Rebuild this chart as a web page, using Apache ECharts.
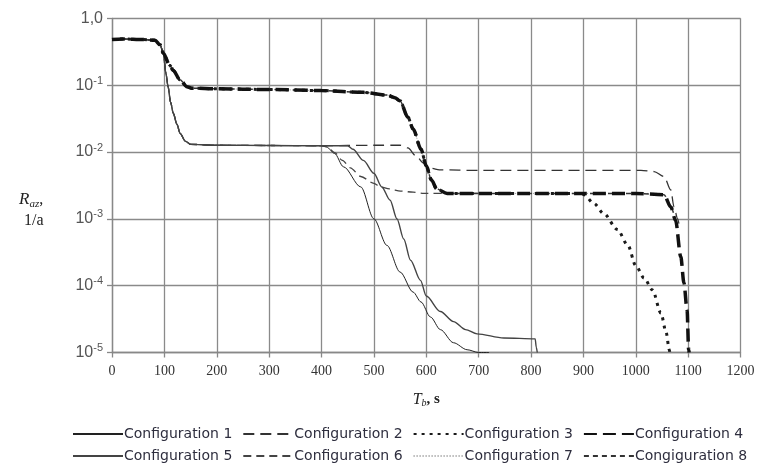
<!DOCTYPE html>
<html>
<head>
<meta charset="utf-8">
<script src="https://cdn.jsdelivr.net/npm/echarts@6/dist/echarts.min.js"></script>
<style>
  html, body { margin: 0; padding: 0; background: #fff; }
  #chart { width: 760px; height: 467px; }
</style>
</head>
<body>
<div id="chart"></div>
<script>
// values: [T_b (s), R_az (1/a)]
const names = ['Configuration 1', 'Configuration 2', 'Configuration 3', 'Configuration 4',
               'Configuration 5', 'Configuration 6', 'Configuration 7', 'Congiguration 8']

const yTickLabels = ['10', '10', '10', '10', '10', '1,0'] // 1e-5 ... 1e0

// shared start of the upper group (3, 4, 7, 8)
const upperHead = [[0, 0.48], [20, 0.49], [60, 0.48], [82, 0.47], [92, 0.4], [98, 0.3], [110, 0.2],
  [117, 0.165], [130, 0.12], [143, 0.095], [152, 0.09], [200, 0.088], [300, 0.086], [400, 0.083],
  [480, 0.078], [525, 0.071], [540, 0.065], [550, 0.058], [565, 0.033], [575, 0.022], [590, 0.011],
  [600, 0.0062], [610, 0.0038], [620, 0.0028], [640, 0.0024]]

// shared start of the lower group (1, 2, 5, 6)
const lowerHead = [[0, 0.48], [20, 0.49], [60, 0.48], [82, 0.47], [92, 0.4], [98, 0.3], [103, 0.15],
  [107, 0.095], [112, 0.055], [117, 0.038], [124, 0.026], [130, 0.019], [140, 0.0145], [150, 0.013],
  [200, 0.0126], [300, 0.0125], [400, 0.0124]]

const conf1 = [[410, 0.0118], [425, 0.0095], [442, 0.006], [475, 0.003], [500, 0.001], [525, 0.0004],
  [550, 0.00016], [575, 0.00008], [590, 0.000057], [608, 0.000034], [627, 0.000022], [652, 0.000014],
  [678, 0.000011], [700, 0.00001], [720, 0.00001]]
const conf2 = [[450, 0.0125], [500, 0.0126], [550, 0.0126], [565, 0.0115], [580, 0.0088], [595, 0.0068],
  [610, 0.0057], [625, 0.0054], [700, 0.0053], [900, 0.0053], [1010, 0.0053], [1035, 0.0051],
  [1054, 0.0043], [1067, 0.0027], [1073, 0.0015], [1080, 0.001], [1083, 0.0008]]
const conf3 = [[800, 0.0024], [895, 0.0024], [901, 0.0023], [920, 0.0017], [939, 0.0012], [965, 0.00069],
  [985, 0.0004], [1000, 0.0002], [1016, 0.00013], [1032, 0.000086], [1048, 0.000039], [1058, 0.00002],
  [1064, 0.000011], [1065, 0.00001]]
const conf4 = [[800, 0.0024], [900, 0.0024], [1000, 0.0024], [1054, 0.0023], [1067, 0.0015], [1076, 0.00095],
  [1086, 0.00027], [1092, 0.00011], [1098, 0.000043], [1101, 0.000011], [1102, 0.00001]]
const conf5 = [[450, 0.0124], [460, 0.011], [480, 0.0075], [500, 0.0048], [515, 0.003], [531, 0.0019],
  [544, 0.001], [557, 0.0005], [570, 0.00024], [589, 0.00012], [600, 0.00007], [627, 0.000041],
  [652, 0.000029], [675, 0.000022], [697, 0.000019], [748, 0.0000165], [808, 0.000016], [810, 0.000012],
  [812, 0.00001]]
const conf6 = [[410, 0.0122], [425, 0.0098], [440, 0.0075], [455, 0.0058], [475, 0.0043], [500, 0.0034],
  [512, 0.003], [530, 0.0028], [551, 0.0026], [575, 0.0025], [595, 0.0024], [640, 0.0024], [700, 0.0024]]
const conf7 = [[800, 0.0024], [1000, 0.0024], [1050, 0.0024]]
const conf8 = [[800, 0.0024], [1000, 0.0024], [1054, 0.0023], [1067, 0.0015], [1076, 0.00095]]

const seriesData = [
  lowerHead.concat(conf1), lowerHead.concat(conf2), upperHead.concat(conf3), upperHead.concat(conf4),
  lowerHead.concat(conf5), lowerHead.concat(conf6), upperHead.concat(conf7), upperHead.concat(conf8)
]

const lineStyles = [
  { color: '#222', width: 1, type: 'solid' },
  { color: '#333', width: 1.3, type: [11, 6] },
  { color: '#1a1a1a', width: 3, type: [3, 5] },
  { color: '#111', width: 3.5, type: [13, 6] },
  { color: '#444', width: 1.4, type: 'solid' },
  { color: '#444', width: 1.3, type: [8, 5] },
  { color: '#9a9a9a', width: 1, type: [1, 2] },
  { color: '#333', width: 1.5, type: [5, 4] }
]

const chart = echarts.init(document.getElementById('chart'), null, { renderer: 'canvas' })

const legendBase = {
  left: 72,
  itemWidth: 50,
  itemHeight: 10,
  itemGap: 10,
  padding: 0,
  itemStyle: { opacity: 0 },
  textStyle: { fontSize: 14, fontFamily: 'DejaVu Sans', color: '#2e2e3e', padding: [0, 0, 0, -4] }
}

chart.setOption({
  animation: false,
  backgroundColor: '#fff',
  grid: { left: 112, right: 19.5, top: 18.3, bottom: 114.5 },
  legend: [
    Object.assign({}, legendBase, { top: 427, data: names.slice(0, 4) }),
    Object.assign({}, legendBase, { top: 449, data: names.slice(4) })
  ],
  xAxis: {
    type: 'value',
    min: 0, max: 1200, interval: 100,
    name: '{i|T}{sub|b}{n|, s}',
    nameLocation: 'middle',
    nameGap: 38,
    nameTextStyle: {
      rich: {
        i: { fontFamily: 'Liberation Serif', fontStyle: 'italic', fontSize: 16, color: '#222', lineHeight: 18 },
        sub: { fontFamily: 'Liberation Serif', fontStyle: 'italic', fontSize: 10, color: '#222', verticalAlign: 'bottom', lineHeight: 12 },
        n: { fontFamily: 'Liberation Serif', fontWeight: 'bold', fontSize: 15, color: '#222', lineHeight: 18 }
      }
    },
    axisLine: { lineStyle: { color: '#888', width: 1.3 } },
    axisTick: { show: true, length: 5, lineStyle: { color: '#888', width: 1.3 } },
    splitLine: { show: true, lineStyle: { color: '#8a8a8a', width: 1.3 } },
    axisLabel: { margin: 12, fontFamily: 'Liberation Serif', fontSize: 14, color: '#333', formatter: (v) => String(v) }
  },
  yAxis: {
    type: 'log', logBase: 10, min: 0.00001, max: 1,
    axisLine: { show: true, lineStyle: { color: '#888', width: 1.3 } },
    axisTick: { show: true, length: 5, lineStyle: { color: '#888', width: 1.3 } },
    splitLine: { show: true, lineStyle: { color: '#8a8a8a', width: 1.3 } },
    axisLabel: {
      margin: 9,
      formatter: (v) => {
        const e = Math.round(Math.log10(v))
        if (e === 0) return '{b|' + yTickLabels[5] + '}'
        return '{b|' + yTickLabels[e + 5] + '}{s|' + e + '}'
      },
      rich: {
        b: { fontFamily: 'Liberation Sans', fontSize: 16, color: '#555', lineHeight: 20 },
        s: { fontFamily: 'Liberation Sans', fontSize: 11, color: '#555', lineHeight: 12, verticalAlign: 'top' }
      }
    }
  },
  graphic: [
    {
      type: 'text', left: 19, top: 191,
      style: {
        text: '{r|R}{s|az}{n|,}',
        rich: {
          r: { fontFamily: 'Liberation Serif', fontStyle: 'italic', fontSize: 17, fill: '#222', lineHeight: 20 },
          s: { fontFamily: 'Liberation Serif', fontStyle: 'italic', fontSize: 11, fill: '#222', lineHeight: 12, verticalAlign: 'bottom' },
          n: { fontFamily: 'Liberation Serif', fontSize: 16, fill: '#222', lineHeight: 20 }
        }
      }
    },
    {
      type: 'text', left: 24, top: 213,
      style: { text: '1/a', font: '16px "Liberation Serif"', fill: '#222' }
    }
  ],
  series: names.map((n, i) => ({
    name: n,
    type: 'line',
    data: seriesData[i],
    symbol: 'none',
    smooth: 0.3,
    smoothMonotone: 'x',
    clip: true,
    lineStyle: lineStyles[i],
    itemStyle: { color: lineStyles[i].color },
    z: [2, 2, 4, 5, 2, 3, 1, 3][i]
  }))
})
</script>
</body>
</html>
